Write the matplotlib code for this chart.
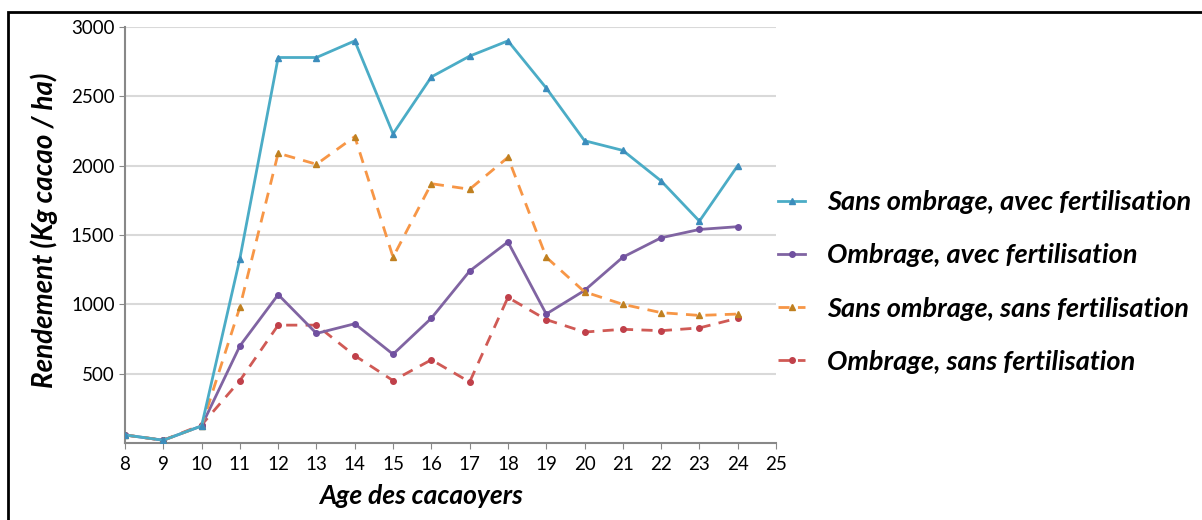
import matplotlib
matplotlib.use("Agg")
import matplotlib.pyplot as plt
from matplotlib.patches import Rectangle

ages = list(range(8, 25))
sans_ombrage_avec = [58, 20, 123, 1330, 2780, 2780, 2900, 2230, 2640, 2790, 2900, 2560, 2180, 2110, 1890, 1600, 2000]
ombrage_avec = [58, 20, 123, 700, 1070, 790, 860, 640, 900, 1240, 1450, 930, 1100, 1340, 1480, 1540, 1560]
sans_ombrage_sans = [58, 20, 123, 980, 2090, 2010, 2210, 1340, 1870, 1830, 2060, 1340, 1090, 1000, 940, 920, 930]
ombrage_sans = [58, 20, 130, 450, 850, 850, 630, 450, 600, 440, 1050, 890, 800, 820, 810, 830, 900]

labels = ["Sans ombrage, avec fertilisation", "Ombrage, avec fertilisation",
          "Sans ombrage, sans fertilisation", "Ombrage, sans fertilisation"]
x_ticks = list(range(8, 26))
y_ticks = [500, 1000, 1500, 2000, 2500, 3000]

plt.rcParams['font.family'] = ['Lato', 'DejaVu Sans']

fig = plt.figure(figsize=(12.02, 5.20), dpi=100)
ax = fig.add_axes([125/1202, 1-443/520, (776-125)/1202, (443-27)/520])

ax.plot(ages, sans_ombrage_avec, color='#4BACC6', lw=2, marker='^', ms=5,
        mfc='#3C8DBC', mec='#3C8DBC', label=labels[0], zorder=4)
ax.plot(ages, ombrage_avec, color='#8064A2', lw=2, marker='o', ms=4,
        mfc='#7050A0', mec='#7050A0', label=labels[1], zorder=3)
ax.plot(ages, sans_ombrage_sans, color='#F79646', lw=2, ls=(0, (4, 3)), marker='^', ms=5,
        mfc='#C08020', mec='#C08020', label=labels[2], zorder=3)
ax.plot(ages, ombrage_sans, color='#D05A55', lw=2, ls=(0, (4, 3)), marker='o', ms=4,
        mfc='#C0404A', mec='#C0404A', label=labels[3], zorder=2)

ax.set_xlim(8, 25)
ax.set_ylim(0, 3000)
ax.set_xticks(x_ticks)
ax.set_yticks(y_ticks)
ax.tick_params(axis='both', labelsize=13.5, color='#888888', length=4, direction='out')
ax.tick_params(axis='x', pad=5)
ax.grid(axis='y', color='#D9D9D9', lw=1.5)
ax.set_axisbelow(True)
for s in ['top', 'right']:
    ax.spines[s].set_visible(False)
for s in ['left', 'bottom']:
    ax.spines[s].set_color('#888888')
    ax.spines[s].set_linewidth(1.5)

ax.set_xlabel("Age des cacaoyers", fontsize=19, fontweight='bold', fontstyle='italic')
ax.xaxis.set_label_coords((421-125)/651, (443-484)/416)
ax.set_ylabel("Rendement (Kg cacao / ha)", fontsize=20, fontweight='bold', fontstyle='italic')
ax.yaxis.set_label_coords((58-125)/651, (443-230)/416)

leg = ax.legend(loc='center left', bbox_to_anchor=((778-125)/651, (443-282)/416), frameon=False,
                prop={'size': 19.5, 'weight': 'bold', 'style': 'italic'},
                handlelength=1.0, labelspacing=1.08, handletextpad=0.8,
                borderaxespad=0, borderpad=0)

fig.patches.append(Rectangle((8/1202, -0.1), 1.2, 1 - 12/520 + 0.1, transform=fig.transFigure,
                             fill=False, edgecolor='black', lw=2))

fig.savefig("out.png", dpi=100)
